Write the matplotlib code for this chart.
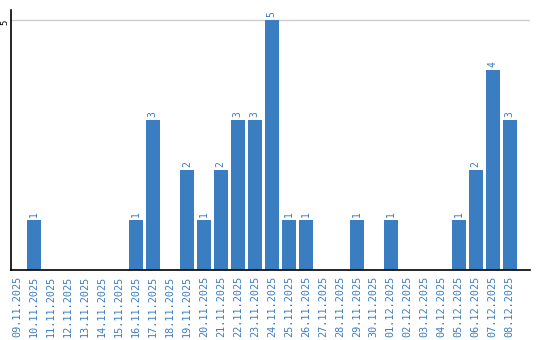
import matplotlib
matplotlib.use("Agg")
import matplotlib.pyplot as plt
import numpy as np

# Daily counts, 09.11.2025 - 08.12.2025
dates = ["09.11.2025", "10.11.2025", "11.11.2025", "12.11.2025", "13.11.2025",
         "14.11.2025", "15.11.2025", "16.11.2025", "17.11.2025", "18.11.2025",
         "19.11.2025", "20.11.2025", "21.11.2025", "22.11.2025", "23.11.2025",
         "24.11.2025", "25.11.2025", "26.11.2025", "27.11.2025", "28.11.2025",
         "29.11.2025", "30.11.2025", "01.12.2025", "02.12.2025", "03.12.2025",
         "04.12.2025", "05.12.2025", "06.12.2025", "07.12.2025", "08.12.2025"]
counts = [0, 1, 0, 0, 0, 0, 0, 1, 3, 0,
          2, 1, 2, 3, 3, 5, 1, 1, 0, 0,
          1, 0, 1, 0, 0, 0, 1, 2, 4, 3]
y_ticks = [5]

blue = "#3b7dc1"

fig = plt.figure(figsize=(5.4, 3.4), dpi=100)
ax = fig.add_axes([11 / 540, 70 / 340, 519 / 540, 260 / 340])

x = np.arange(len(dates))
bars = ax.bar(x, counts, width=0.82, color=blue, zorder=2)

for xi, v in zip(x, counts):
    if v > 0:
        ax.text(xi, v + 0.06, str(v), rotation=90, ha="center", va="bottom",
                color=blue, fontsize=7, family="DejaVu Sans Mono")

ax.set_xlim(-0.35, 30.2)
ax.set_ylim(0, 5.2)
ax.set_xticks(x)
ax.set_xticklabels(dates, rotation=90, color=blue, fontsize=7.3,
                   family="DejaVu Sans Mono")
ax.set_yticks(y_ticks)
ax.set_yticklabels([str(t) for t in y_ticks], rotation=90, va="top",
                   fontsize=6.5, family="DejaVu Sans Mono")
ax.tick_params(axis="x", length=0, pad=4)
ax.tick_params(axis="y", length=0, pad=1)
ax.yaxis.grid(True, color="#cccccc", linewidth=1, zorder=0)

ax.spines["top"].set_visible(False)
ax.spines["right"].set_visible(False)
ax.spines["left"].set_linewidth(1.2)
ax.spines["bottom"].set_linewidth(1.2)

fig.savefig("out.png", dpi=100)
